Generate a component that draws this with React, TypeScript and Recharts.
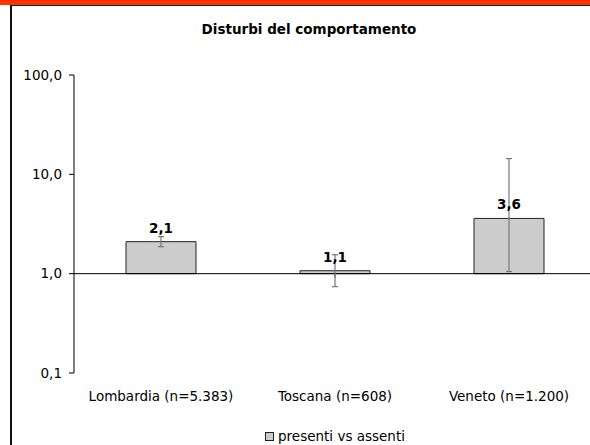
import {
  Bar,
  ComposedChart,
  ErrorBar,
  LabelList,
  Legend,
  Line,
  ReferenceLine,
  XAxis,
  YAxis,
} from "recharts";

const categories = ["Lombardia (n=5.383)", "Toscana (n=608)", "Veneto (n=1.200)"];
const ratios = [2.1, 1.07, 3.6];
const ciLow = [1.87, 0.74, 1.05];
const ciHigh = [2.36, 1.55, 14.4];
const yTicks = [0.1, 1, 10, 100];
const seriesName = "presenti vs assenti";

const data = categories.map((name, i) => ({
  name,
  value: ratios[i],
  err: [ratios[i] - ciLow[i], ciHigh[i] - ratios[i]],
}));

const FONT = "'DejaVu Sans', Verdana, sans-serif";
const fmt = (v: number) => v.toFixed(1).replace(".", ",");

function LegendBox({ payload }: any) {
  const items = (payload || []).filter((p: any) => p.type !== "none");
  return (
    <div style={{ display: "flex", justifyContent: "center", fontFamily: FONT, fontSize: 13.5 }}>
      {items.map((p: any) => (
        <div key={p.value} style={{ display: "flex", alignItems: "center", lineHeight: "16px" }}>
          <span
            style={{
              display: "inline-block",
              width: 7,
              height: 7,
              background: "#cccccc",
              border: "1px solid #222",
              marginRight: 4,
            }}
          />
          <span>{p.value}</span>
        </div>
      ))}
    </div>
  );
}

export default function App() {
  return (
    <div
      style={{
        position: "absolute",
        left: 0,
        top: 0,
        width: 590,
        height: 445,
        overflow: "hidden",
        background: "#fff",
        fontFamily: FONT,
      }}
    >
      <div style={{ position: "absolute", left: 0, top: 0, width: 590, height: 5, background: "#ff3300" }} />
      <div
        style={{
          position: "absolute",
          left: 10,
          top: 5,
          width: 600,
          height: 460,
          borderTop: "1px solid #222",
          borderLeft: "2px solid #111",
        }}
      />
      <div
        style={{
          position: "absolute",
          left: 0,
          top: 21,
          width: 618,
          textAlign: "center",
          fontWeight: "bold",
          fontSize: 13.5,
          lineHeight: "16px",
          color: "#000",
        }}
      >
        Disturbi del comportamento
      </div>
      <div style={{ position: "absolute", left: 0, top: 0 }}>
        <ComposedChart
          width={600}
          height={445}
          data={data}
          margin={{ top: 75, right: 4, bottom: 1, left: 0 }}
          style={{ fontFamily: FONT }}
        >
          <XAxis
            dataKey="name"
            axisLine={false}
            tickLine={false}
            interval={0}
            height={55}
            tickSize={6}
            tickMargin={12}
            tick={{ fontSize: 13.5, fill: "#000" }}
          />
          <XAxis xAxisId="pos" type="number" domain={[0, 3]} hide />
          <YAxis
            scale="log"
            domain={[0.1, 100]}
            ticks={yTicks}
            allowDataOverflow
            width={74}
            stroke="#000"
            tickSize={5}
            tickMargin={7}
            tickFormatter={fmt}
            tick={{ fontSize: 13.5, fill: "#000" }}
          />
          <ReferenceLine y={1} stroke="#000" />
          {[1, 2].map((b) => (
            <ReferenceLine
              key={b}
              xAxisId="pos"
              segment={[
                { x: b, y: 1 },
                { x: b, y: 0.91 },
              ]}
              stroke="#444"
            />
          ))}
          <Bar
            dataKey={(d: any) => [1, d.value]}
            name={seriesName}
            fill="#cccccc"
            stroke="#222"
            strokeWidth={1}
            barSize={70}
            isAnimationActive={false}
          >
            <LabelList
              dataKey="value"
              position="top"
              offset={9}
              formatter={(v: any) => fmt(Number(v))}
              style={{ fontSize: 13.5, fontWeight: "bold", fill: "#000" }}
            />
          </Bar>
          <Line
            dataKey="value"
            stroke="none"
            dot={false}
            activeDot={false}
            legendType="none"
            isAnimationActive={false}
          >
            <ErrorBar dataKey="err" direction="y" width={3} stroke="#777" strokeWidth={1.2} />
          </Line>
          <Legend
            verticalAlign="bottom"
            height={16}
            wrapperStyle={{ left: 74, width: 522 }}
            content={<LegendBox />}
          />
        </ComposedChart>
      </div>
    </div>
  );
}
